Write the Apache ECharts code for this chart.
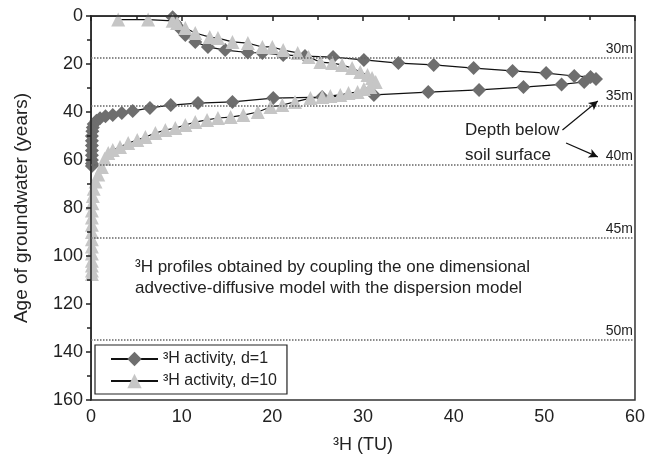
<!DOCTYPE html>
<html>
<head>
<meta charset="utf-8">
<script src="https://cdn.jsdelivr.net/npm/echarts@6/dist/echarts.min.js"></script>
<style>
    html, body { margin: 0; padding: 0; background: #fff; }
    #chart { width: 648px; height: 467px; }
</style>
</head>
<body>
<div id="chart"></div>
<script>
// 3H activity (TU) against age of groundwater (years), d = 1
const tuD1 = [9.0, 9.3, 9.8, 10.4, 11.5, 12.9, 14.8, 17.3, 18.9, 21.2, 23.6, 26.7, 30.1, 33.9, 37.8, 42.2, 46.5, 50.2, 53.3, 55.1, 55.7,
    54.4, 51.9, 47.7, 42.8, 37.2, 31.2, 25.5, 20.1, 15.6, 11.8, 8.8, 6.5, 4.6, 3.4, 2.4, 1.6, 1.0, 0.6, 0.3, 0.2,
    0.15, 0.1, 0.1, 0.1, 0.1, 0.1, 0.1, 0.1, 0.1]
const ageD1 = [0.5, 2.9, 5.2, 7.9, 10.8, 12.9, 14.2, 15.2, 15.4, 16.2, 16.7, 17.1, 18.3, 19.6, 20.4, 21.7, 22.9, 23.8, 25.0, 25.4, 26.3,
    27.5, 28.5, 29.6, 30.8, 31.7, 32.9, 33.8, 34.2, 35.8, 36.3, 37.1, 38.3, 39.6, 40.4, 41.2, 41.8, 42.6, 43.6, 45.0, 46.5,
    48.0, 50.0, 52.0, 54.0, 56.0, 58.0, 60.0, 61.5, 62.5]

// d = 10
const tuD10 = [3.0, 6.3, 9.0, 9.5, 10.4, 11.5, 13.1, 14.0, 15.6, 17.3, 18.9, 20.0, 21.2, 22.8, 24.0, 25.3, 26.6, 27.7, 28.8, 29.7,
    30.5, 31.0, 31.4, 30.8, 30.1, 29.4, 28.4, 27.5, 26.4, 25.5, 24.2, 22.5, 21.1, 19.8, 18.4, 16.8, 15.4, 14.0, 12.8, 11.5,
    10.4, 9.3, 8.2, 7.1, 6.0, 5.1, 4.1, 3.2, 2.4, 1.9, 1.5, 1.2, 0.8, 0.5, 0.3, 0.2, 0.15, 0.1, 0.1, 0.1,
    0.1, 0.1, 0.1, 0.1, 0.1, 0.1, 0.1, 0.1]
const ageD10 = [1.5, 1.5, 2.0, 2.9, 5.0, 7.1, 8.8, 9.2, 10.8, 11.3, 12.9, 12.9, 14.2, 15.4, 17.1, 19.2, 19.6, 20.4, 21.7, 23.3,
    24.6, 25.8, 27.5, 29.6, 30.4, 31.7, 32.1, 32.9, 33.3, 33.8, 34.2, 35.8, 37.1, 37.9, 40.0, 41.3, 42.1, 42.5, 43.3, 44.2,
    45.4, 46.7, 47.5, 48.8, 50.4, 51.7, 52.9, 54.6, 55.8, 57.1, 59.5, 62.9, 66.0, 69.0, 72.0, 75.0, 78.0, 81.0, 84.0, 87.0,
    90.0, 93.0, 96.0, 99.0, 102.0, 104.0, 106.0, 107.5]

// depth below soil surface, drawn as dotted reference lines
const depthAges = [17.5, 37.3, 62.0, 92.5, 135]
const depthLabels = ['30m', '35m', '40m', '45m', '50m']

const legendNames = ['³H activity, d=1', '³H activity, d=10']

const font = 'Liberation Sans, Arial, sans-serif'
const pairs = (xs, ys) => xs.map((x, i) => [x, ys[i]])

const dom = echarts.init(document.getElementById('chart'))
const options = {
    animation: false,
    textStyle: {fontFamily: font, color: '#222'},
    grid: {
        left: 91,
        right: 13,
        top: 16,
        bottom: 67,
        show: true,
        borderColor: '#333',
        borderWidth: 1.5
    },
    legend: {
        orient: 'vertical',
        left: 95,
        top: 345,
        padding: [6, 10, 5, 15],
        itemGap: 6,
        itemWidth: 47,
        itemHeight: 18,
        borderColor: '#222',
        borderWidth: 1.2,
        textStyle: {fontSize: 16, color: '#222', fontFamily: font},
        data: legendNames
    },
    xAxis: {
        type: 'value',
        min: 0,
        max: 60,
        interval: 10,
        z: 4,
        name: '³H (TU)',
        nameLocation: 'middle',
        nameGap: 36,
        nameTextStyle: {fontSize: 18, color: '#222'},
        axisLine: {lineStyle: {color: '#222', width: 1.5}},
        axisTick: {length: 5, lineStyle: {color: '#222', width: 1.5}},
        minorTick: {show: true, splitNumber: 2, length: 4, lineStyle: {color: '#222', width: 1.5}},
        axisLabel: {fontSize: 18, color: '#222', margin: 8},
        splitLine: {show: false}
    },
    yAxis: {
        type: 'value',
        inverse: true,
        min: 0,
        max: 160,
        interval: 20,
        z: 4,
        name: 'Age of groundwater (years)',
        nameLocation: 'middle',
        nameGap: 60,
        nameTextStyle: {fontSize: 19, color: '#222'},
        axisLine: {lineStyle: {color: '#222', width: 1.5}},
        axisTick: {length: 5, lineStyle: {color: '#222', width: 1.5}},
        minorTick: {show: true, splitNumber: 2, length: 4, lineStyle: {color: '#222', width: 1.5}},
        axisLabel: {fontSize: 18, color: '#222', margin: 8},
        splitLine: {show: false}
    },
    graphic: [
        // hide the part of the markers that spills out of the plot frame
        {type: 'rect', z: 3, silent: true, shape: {x: 60, y: 16, width: 30.2, height: 384}, style: {fill: '#fff'}},
        {type: 'rect', z: 3, silent: true, shape: {x: 91, y: 0, width: 545, height: 15.2}, style: {fill: '#fff'}},
        {
            type: 'text', z: 5, left: 135, top: 257,
            style: {
                text: '³H profiles obtained by coupling the one dimensional\nadvective-diffusive model with the dispersion model',
                font: '17px ' + font, fill: '#222', lineHeight: 21
            }
        },
        {
            type: 'text', z: 5, left: 465, top: 118,
            style: {text: 'Depth below\nsoil surface', font: '17px ' + font, fill: '#222', lineHeight: 25}
        }
    ],
    series: [
        {
            name: legendNames[0],
            type: 'line',
            symbol: 'diamond',
            symbolSize: 14,
            showAllSymbol: true,
            clip: true,
            itemStyle: {color: '#6e6e6e'},
            lineStyle: {color: '#111', width: 1.2},
            data: pairs(tuD1, ageD1)
        },
        {
            name: legendNames[1],
            type: 'line',
            symbol: 'triangle',
            symbolSize: 14,
            showAllSymbol: true,
            clip: true,
            itemStyle: {color: '#c6c6c6'},
            lineStyle: {color: '#111', width: 1.2},
            data: pairs(tuD10, ageD10)
        },
        {
            // depth lines
            type: 'line',
            data: [],
            silent: true,
            markLine: {
                silent: true,
                symbol: 'none',
                animation: false,
                lineStyle: {color: '#666', type: 'dotted', width: 1.5},
                label: {position: 'insideEndTop', fontSize: 14, color: '#222', distance: [2, 2]},
                data: depthAges.map((a, i) => ({yAxis: a, name: depthLabels[i], label: {formatter: depthLabels[i]}}))
            }
        },
        {
            // arrows from the annotation to the depth labels
            type: 'line',
            data: [],
            silent: true,
            markLine: {
                silent: true,
                symbol: ['none', 'arrow'],
                symbolSize: [7, 9],
                animation: false,
                lineStyle: {color: '#111', type: 'solid', width: 1.2},
                label: {show: false},
                data: [
                    [{coord: [52.0, 47.5]}, {coord: [55.9, 35.4]}],
                    [{coord: [52.4, 52.9]}, {coord: [55.9, 58.7]}]
                ]
            }
        }
    ]
}
dom.setOption(options)
window.addEventListener('resize', () => dom.resize())
</script>
</body>
</html>
